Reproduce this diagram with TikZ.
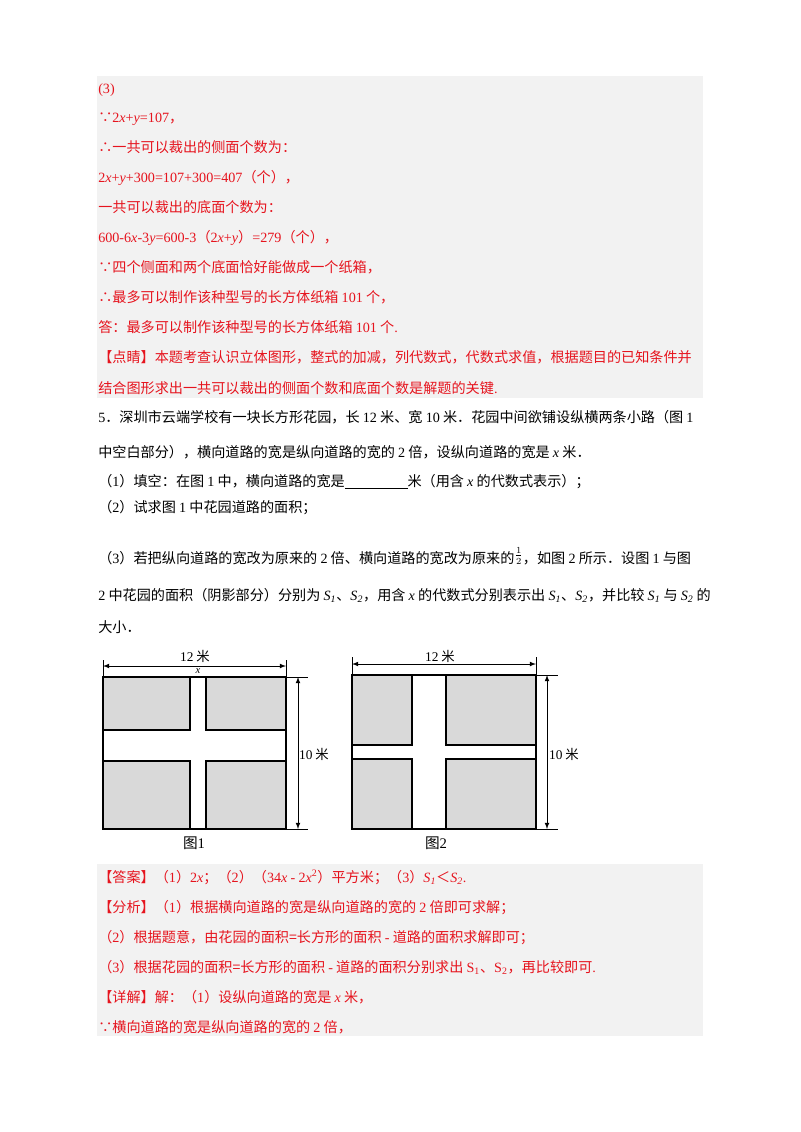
\documentclass[tikz,border=0pt]{standalone}
\usepackage{fontspec}
\setmainfont{Noto Sans CJK SC}
\newfontfamily\lat{Liberation Serif}
\newcommand\lt[1]{{\lat #1}}
\newcommand\lx[1]{{\lat\itshape #1}}
\definecolor{ans}{RGB}{230,20,30}
\definecolor{bg}{RGB}{242,242,242}
\definecolor{shade}{RGB}{217,217,217}
\begin{document}
\begin{tikzpicture}[x=0.75pt,y=-0.75pt,
  txt/.style={anchor=base west,inner sep=0pt,font=\fontsize{10.6}{12}\selectfont},
  red/.style={txt,text=ans},
  wall/.style={line width=1.6pt},
  bed/.style={wall,fill=shade},
  dim/.style={line width=0.6pt,-latex},
  ext/.style={line width=0.6pt},
  lbl/.style={inner sep=0pt,font=\fontsize{10}{12}\selectfont}]
\useasboundingbox (0,0) rectangle (800,1132);
\fill[bg] (97,76) rectangle (703,398);
\fill[bg] (97,864) rectangle (703,1036);
% top block
\node[red] (l1) at (98,93) {\lt{(3)}};
\node[red] (l2) at (98,122) {∵\lt{2}\lx{x}\lt{+}\lx{y}\lt{=107}，};
\node[red] (l3) at (98,152) {∴一共可以裁出的侧面个数为：};
\node[red] (l4) at (98,182) {\lt{2}\lx{x}\lt{+}\lx{y}\lt{+300=107+300=407}（个），};
\node[red] (l5) at (98,212) {一共可以裁出的底面个数为：};
\node[red] (l6) at (98,242) {\lt{600-6}\lx{x}\lt{-3}\lx{y}\lt{=600-3}（\lt{2}\lx{x}\lt{+}\lx{y}）\lt{=279}（个），};
\node[red] (l7) at (98,272) {∵四个侧面和两个底面恰好能做成一个纸箱，};
\node[red] (l8) at (98,302) {∴最多可以制作该种型号的长方体纸箱 \lt{101} 个，};
\node[red] (l9) at (98,332) {答：最多可以制作该种型号的长方体纸箱 \lt{101} 个\lt{.}};
\node[red] (l10) at (98,362) {【点睛】本题考查认识立体图形，整式的加减，列代数式，代数式求值，根据题目的已知条件并};
\node[red] (l11) at (98,393) {结合图形求出一共可以裁出的侧面个数和底面个数是解题的关键\lt{.}};
% question
\node[txt] (q1) at (98,422) {\lt{5}．深圳市云端学校有一块长方形花园，长 \lt{12} 米、宽 \lt{10} 米．花园中间欲铺设纵横两条小路（图 \lt{1}};
\node[txt] (q2) at (98,457) {中空白部分），横向道路的宽是纵向道路的宽的 \lt{2} 倍，设纵向道路的宽是 \lx{x} 米．};
\node[txt] (q3) at (98,486) {（\lt{1}）填空：在图 \lt{1} 中，横向道路的宽是\rule[-2pt]{47pt}{0.6pt}米（用含 \lx{x} 的代数式表示）；};
\node[txt] (q4) at (98,512) {（\lt{2}）试求图 \lt{1} 中花园道路的面积；};
\node[txt] (q5) at (98,563) {（\lt{3}）若把纵向道路的宽改为原来的 \lt{2} 倍、横向道路的宽改为原来的\raisebox{3pt}{$\frac{\scriptstyle 1}{\scriptstyle 2}$}，如图 \lt{2} 所示．设图 \lt{1} 与图};
\node[txt] (q6) at (98,600) {\lt{2} 中花园的面积（阴影部分）分别为 \lx{S\textsubscript{1}}、\lx{S\textsubscript{2}}，用含 \lx{x} 的代数式分别表示出 \lx{S\textsubscript{1}}、\lx{S\textsubscript{2}}，并比较 \lx{S\textsubscript{1}} 与 \lx{S\textsubscript{2}} 的};
\node[txt] (q7) at (98,632) {大小．};
% figure 1
\draw[wall] (103,677) rectangle (286,829);
\draw[bed] (103,677) rectangle (190,730);
\draw[bed] (206,677) rectangle (286,730);
\draw[bed] (103,761) rectangle (190,829);
\draw[bed] (206,761) rectangle (286,829);
\coordinate (a1) at (103,666); \coordinate (b1) at (286,666);
\draw[ext] (103,660) -- (103,677); \draw[ext] (286,660) -- (286,677);
\draw[dim,latex-latex] (a1) -- (b1);
\draw[ext] (286,677) -- (308,677); \draw[ext] (286,829) -- (308,829);
\coordinate (c1) at (298,677); \coordinate (d1) at (298,829);
\draw[dim,latex-latex] (c1) -- (d1);
\node[lbl] (t1) at (195,656) {\lt{12} 米};
\node[lbl,font=\fontsize{8}{9}\selectfont] (x1) at (198,671) {\lx{x}};
\node[lbl] (r1) at (314,754) {\lt{10} 米};
\node[lbl,font=\fontsize{11}{12}\selectfont] (f1) at (194,843) {图\lt{1}};
% figure 2
\draw[wall] (352,675) rectangle (536,829);
\draw[bed] (352,675) rectangle (412,745);
\draw[bed] (446,675) rectangle (536,745);
\draw[bed] (352,759) rectangle (412,829);
\draw[bed] (446,759) rectangle (536,829);
\coordinate (a2) at (352,664); \coordinate (b2) at (536,664);
\draw[ext] (352,657) -- (352,675); \draw[ext] (536,657) -- (536,675);
\draw[dim,latex-latex] (a2) -- (b2);
\draw[ext] (536,675) -- (558,675); \draw[ext] (536,829) -- (558,829);
\coordinate (c2) at (547,675); \coordinate (d2) at (547,829);
\draw[dim,latex-latex] (c2) -- (d2);
\node[lbl] (t2) at (440,656) {\lt{12} 米};
\node[lbl] (r2) at (564,754) {\lt{10} 米};
\node[lbl,font=\fontsize{11}{12}\selectfont] (f2) at (436,843) {图\lt{2}};
% bottom block
\node[red] (b1t) at (98,882) {【答案】（\lt{1}）\lt{2}\lx{x}；（\lt{2}）（\lt{34}\lx{x} \lt{-} \lt{2}\lx{x}\textsuperscript{\lt{2}}）平方米；（\lt{3}）\lx{S\textsubscript{1}}＜\lx{S\textsubscript{2}}\lt{.}};
\node[red] (b2t) at (98,912) {【分析】（\lt{1}）根据横向道路的宽是纵向道路的宽的 \lt{2} 倍即可求解；};
\node[red] (b3t) at (98,942) {（\lt{2}）根据题意，由花园的面积=长方形的面积 \lt{-} 道路的面积求解即可；};
\node[red] (b4t) at (98,972) {（\lt{3}）根据花园的面积=长方形的面积 \lt{-} 道路的面积分别求出 \lt{S\textsubscript{1}}、\lt{S\textsubscript{2}}，再比较即可\lt{.}};
\node[red] (b5t) at (98,1002) {【详解】解：（\lt{1}）设纵向道路的宽是 \lx{x} 米，};
\node[red] (b6t) at (98,1032) {∵横向道路的宽是纵向道路的宽的 \lt{2} 倍，};
\end{tikzpicture}
\end{document}
